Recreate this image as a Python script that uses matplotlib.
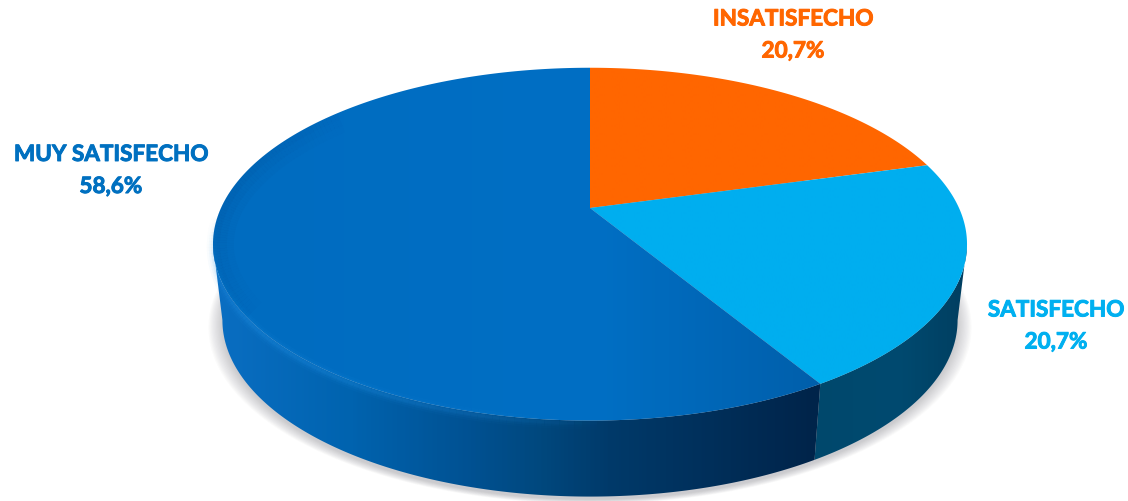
import numpy as np
import matplotlib
matplotlib.use('Agg')
import matplotlib.pyplot as plt
import matplotlib.patheffects as pe
from matplotlib.colors import LinearSegmentedColormap, to_rgb
from matplotlib.patches import Polygon

plt.rcParams['font.family'] = ['Lato', 'DejaVu Sans']

# datos
categorias = ['INSATISFECHO', 'SATISFECHO', 'MUY SATISFECHO']
valores = [20.7, 20.7, 58.6]
etiquetas = ['20,7%', '20,7%', '58,6%']
colores_texto = ['#FF6600', '#00B0F0', '#0070C0']
pos_etiquetas = [(793, 36), (1056, 327), (111, 171.5)]

# cara y lado del disco: (x, color) de izquierda a derecha
cara_naranja = [(590, '#FF6600'), (930, '#FF6600')]
cara_celeste = [(590, '#00AEEF'), (970, '#00AEEF')]
cara_azul = [(215, '#006CC0'), (600, '#006FC4'), (820, '#005FAB')]
caras = [cara_naranja, cara_celeste, cara_azul]
lado_naranja = [(150, '#A84300'), (1000, '#A84300')]
lado_celeste = [(810, '#00486C'), (900, '#004A70'), (970, '#003E60')]
lado_azul = [(215, '#0A6EC2'), (350, '#0063AF'), (470, '#005192'),
             (540, '#00487E'), (610, '#003A6A'), (815, '#00244A')]
lados = [lado_naranja, lado_celeste, lado_azul]

# geometria de la perspectiva
CX, CY = 590, 209
A, K, P = 369, 169, 0.205
GROSOR = 76
ESCALA_BASE = 0.975
# parte frontal de la pared, entre los dos extremos laterales
FRENTE = (np.arccos(-P), 2 * np.pi - np.arccos(-P))


def proyectar(theta, base=False):
    u, v = np.sin(theta), np.cos(theta)
    d = 1 + P * v
    x = CX + A * u / d
    y = CY - K * v / d
    if base:
        x = CX + (x - CX) * ESCALA_BASE
        y = y + GROSOR
    return x, y


def relleno_gradiente(ax, poligono, paradas, zorder):
    # gradiente horizontal recortado al poligono
    paradas = [(0, paradas[0][1])] + paradas + [(1128, paradas[-1][1])]
    cmap = LinearSegmentedColormap.from_list(
        'g', [(x / 1128, to_rgb(c)) for x, c in paradas])
    img = ax.imshow(np.linspace(0, 1, 600).reshape(1, -1), cmap=cmap, aspect='auto',
                    extent=(0, 1128, 502, 0), zorder=zorder, interpolation='bilinear')
    parche = Polygon(poligono, closed=True, transform=ax.transData, fc='none', ec='none')
    ax.add_patch(parche)
    img.set_clip_path(parche)
    return parche


def trazo_difuso(ax, theta, dy, color, capas, zorder, clip=None):
    # linea suave que se desvanece en los dos extremos
    n = len(theta)
    pasos = range(0, n - 4, 4)
    for w, al in capas:
        for j in pasos:
            f = np.sin(np.pi * (j + 2) / n) ** 0.7
            x, y = proyectar(theta[j:j + 5])
            ln, = ax.plot(x, y + dy, color=color, alpha=al * f, lw=w, zorder=zorder,
                          solid_capstyle='butt')
            if clip is not None:
                ln.set_clip_path(clip)


fig = plt.figure(figsize=(11.28, 5.02), dpi=100)
ax = fig.add_axes([0, 0, 1, 1])

# sombra suave debajo del disco
t = np.linspace(0, 2 * np.pi, 400)
sx, sy = proyectar(t, base=True)
for extra in np.linspace(14, 0, 12):
    f = 1 + extra / 370
    ax.fill(CX + (sx - CX) * f, sy + 3 + extra * 0.3, color='#6E6E78', alpha=0.03, lw=0, zorder=1)

limites = np.cumsum([0] + valores) / sum(valores) * 2 * np.pi
recorte_azul = None

for i in range(len(valores)):
    # pared: solo lo que queda de frente
    ini, fin = max(limites[i], FRENTE[0]), min(limites[i + 1], FRENTE[1])
    if fin > ini:
        arco = np.linspace(ini, fin, 300)
        tx, ty = proyectar(arco)
        bx, by = proyectar(arco, base=True)
        pared = np.column_stack([np.r_[tx, bx[::-1]], np.r_[ty, by[::-1]]])
        relleno_gradiente(ax, pared, lados[i], 2 + i * 0.1)

    # cara superior
    arco = np.linspace(limites[i], limites[i + 1], 300)
    tx, ty = proyectar(arco)
    cara = np.column_stack([np.r_[CX, tx], np.r_[CY, ty]])
    recorte_azul = relleno_gradiente(ax, cara, caras[i], 5)

# brillo del bisel sobre la pared azul, borde oscuro a la izquierda de la cara
arco = np.linspace(limites[2], limites[3], 900)
bisel = arco[(arco > np.radians(178)) & (arco < np.radians(268))]
trazo_difuso(ax, bisel, 2.5, '#2A9BF0', [(9, 0.05), (6, 0.08), (3.5, 0.10), (2, 0.10)], 5.1)
borde = arco[(arco > np.radians(235)) & (arco < np.radians(310))]
trazo_difuso(ax, borde, 0, '#00407C', [(30, 0.04), (20, 0.05), (10, 0.06)], 5.2, recorte_azul)

for i in range(len(categorias)):
    x, y = pos_etiquetas[i]
    ax.text(x, y, categorias[i] + '\n' + etiquetas[i], color=colores_texto[i], fontsize=16.2,
            fontweight='bold', ha='center', va='center', linespacing=1.65, zorder=6,
            path_effects=[pe.withStroke(linewidth=0.7, foreground=colores_texto[i])])

ax.set_xlim(0, 1128)
ax.set_ylim(502, 0)
ax.axis('off')
fig.savefig('out.png', dpi=100, facecolor='white')
